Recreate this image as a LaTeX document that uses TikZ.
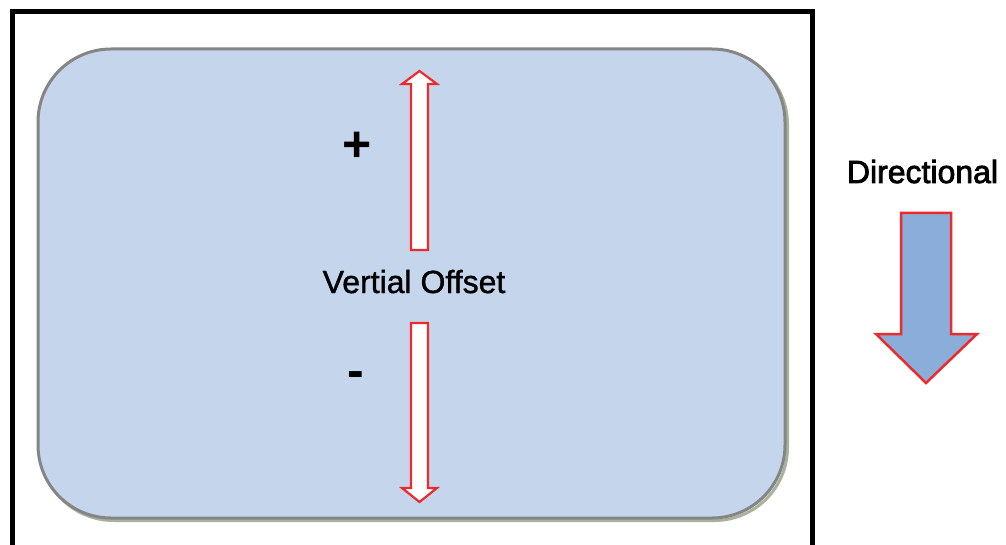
\documentclass[tikz,border=0pt]{standalone}
\usepackage{fontspec}
\setmainfont{Liberation Sans}
\newfontfamily\labelfont[FakeBold=1.2]{Liberation Sans}
\newfontfamily\headfont[FakeBold=2.4]{Liberation Sans}
\definecolor{panelfill}{HTML}{C5D6EC}
\definecolor{panelline}{HTML}{858585}
\definecolor{panelshadow}{HTML}{A9B29C}
\definecolor{arrowred}{HTML}{EC2A2C}
\definecolor{arrowblue}{HTML}{8AAED9}
\tikzset{
  labeltext/.style={inner sep=0pt, font=\labelfont\fontsize{32pt}{36pt}\selectfont},
  headtext/.style={inner sep=0pt, font=\headfont\fontsize{32pt}{36pt}\selectfont},
  signtext/.style={inner sep=0pt, font=\fontsize{50pt}{54pt}\selectfont\bfseries},
  hollowarrow/.style={draw=arrowred, line width=2.2pt, fill=white, line join=miter},
  bigarrow/.style={draw=arrowred, line width=2.5pt, fill=arrowblue, line join=miter},
}
\begin{document}
\begin{tikzpicture}[x=1pt,y=-1pt]
\useasboundingbox (0,0) rectangle (1006,545);
\clip (0,0) rectangle (1006,545);
% outer frame
\draw[line width=5pt] (12.5,560) -- (12.5,12) -- (812,12) -- (812,560);
% panel shadow and panel
\draw[panelshadow, line width=3pt, rounded corners=73pt] (40.5,51.5) rectangle (787.5,520.5);
\draw[panelline, fill=panelfill, line width=3pt, rounded corners=73pt] (38,49) rectangle (785,518);
% up arrow
\draw[hollowarrow] (411,250) -- (411,84) -- (402,84) -- (419.5,71) -- (437,84) -- (428,84) -- (428,250) -- cycle;
% down arrow
\draw[hollowarrow] (411,323) -- (411,488) -- (402,488) -- (419.5,502) -- (437,488) -- (428,488) -- (428,323) -- cycle;
% labels
\node[signtext, anchor=base] (plus) at (357,161.5) {+};
\node[signtext, anchor=base] (minus) at (356,387) {-};
\node[labeltext, anchor=base] (offset) at (414,293) {Vertial Offset};
\node[headtext, anchor=base] (dirlabel) at (922.5,183) {Directional};
% directional arrow
\draw[bigarrow] (901,213) -- (901,334) -- (876,334) -- (926,383) -- (977,334) -- (951,334) -- (951,213) -- cycle;
\end{tikzpicture}
\end{document}
